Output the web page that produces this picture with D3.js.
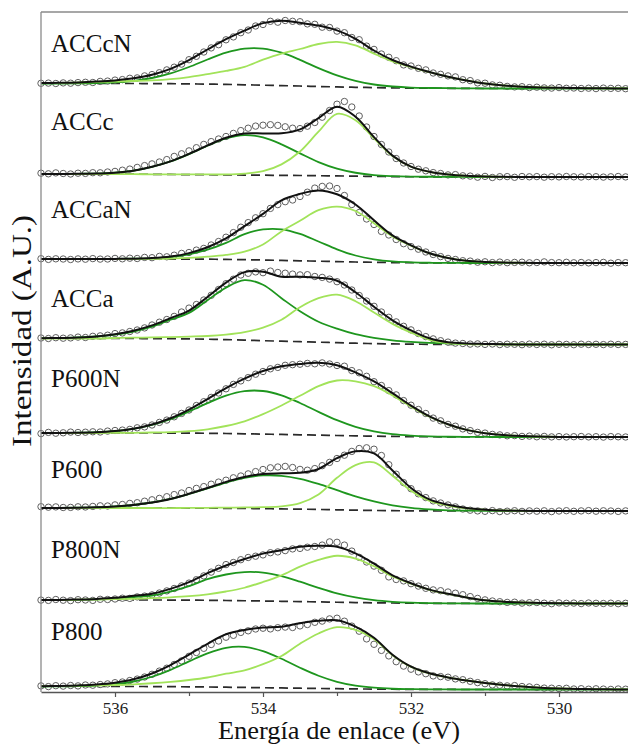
<!DOCTYPE html>
<html><head><meta charset="utf-8">
<script src="https://cdn.jsdelivr.net/npm/d3@7"></script>
<style>html,body{margin:0;padding:0;background:#fff;overflow:hidden}
text{font-family:"Liberation Serif",Tinos,"Times New Roman",Times,"Nimbus Roman","Nimbus Roman No9 L",FreeSerif,"Noto Serif","DejaVu Serif",serif}</style>
</head><body><svg id="c" width="628" height="744"></svg>
<script>
// ---------- data ----------
const samples = ["ACCcN","ACCc","ACCaN","ACCa","P600N","P600","P800N","P800"];
const offsets = [603.5,515,429,347.5,255,181,88.5,2.5];   // vertical stacking offsets (a.u.)
const xTicks = [536,534,532,530];
const xMinorTicks = [535,533,531];
const fitEnergy = d3.range(537, 528.9, -0.25);   // 537 .. 529 eV
const dataEnergy = d3.range(537, 529.05, -0.1);  // 537 .. 529.1 eV

const ACCcN_bg = [5,5,5,5,5,5,4.9,4.8,4.6,4.4,4.1,3.7,3.3,2.9,2.5,2.0,1.6,1.2,0.9,0.6,0.4,0.3,0.2,0.1,0,0,0,0,0,0,0,0,0];
const ACCcN_hi = [0,0,0.1,0.4,1.1,2.7,5.6,10.3,16.9,24.6,31.7,36.2,36.6,32.9,26.2,18.4,11.5,6.4,3.1,1.4,0.5,0.2,0.1,0,0,0,0,0,0,0,0,0,0];
const ACCcN_lo = [0.5,0.7,1.0,1.5,2.0,2.5,3.2,4.5,6.8,10,13.5,18,25.5,32,37,42.5,45,42,34,26.5,21,16,11.5,8,5,3,1.8,1.1,0.7,0.4,0.2,0.1,0];
const ACCcN_data = [5.2,5.4,5.0,5.6,5.3,5.9,6.2,6.0,7.1,7.4,
 8.4,8.9,10.2,10.6,12.6,13.9,15.8,18.6,21.3,24.4,
 28.8,32.2,36.5,40.6,43.8,48.7,51.6,55.8,58.5,62.5,
 64.0,67.2,66.3,68.0,67.2,66.8,64.6,64.2,61.3,61.0,
 57.4,55.8,51.0,48.8,42.4,39.1,34.5,31.2,27.8,23.6,
 22.5,20.2,18.6,15.5,14.2,12.6,11.6,8.8,7.9,5.6,
 5.3,3.6,3.2,2.1,1.6,1.8,0.9,1.3,0.6,0.4,
 0.9,0.2,0.5,0.0,0.3,-0.1,0.4,0.1,0.2,-0.2];

const ACCc_bg = [3,3,3,2.95,2.9,2.8,2.7,2.55,2.4,2.25,2.1,1.95,1.8,1.65,1.5,1.3,1.1,0.85,0.6,0.4,0.25,0.15,0.1,0.05,0,0,0,0,0,0,0,0,0];
const ACCc_hi = [0,0,0.2,0.5,1.4,3.5,7.5,13,20.5,29.0,36.6,40,37.8,31.0,22.1,13.6,7.2,3.4,1.3,0.5,0.2,0.1,0,0,0,0,0,0,0,0,0,0,0];
const ACCc_lo = [0,0,0,0,0,0,0,0.1,0.2,0.3,0.5,1.5,4,11,24,44,62,56,38,20.5,10,5,2.4,1.1,0.5,0.2,0,0,0,0,0,0,0];
const ACCc_data = [3.8,3.2,4.1,3.5,3.0,3.8,3.6,4.3,4.2,5.0,
 5.6,6.8,7.9,9.6,11.4,13.1,15.0,17.4,20.6,23.2,
 26.1,29.3,32.6,35.4,38.0,40.5,43.6,46.4,48.8,50.9,
 51.8,52.3,51.6,50.2,48.8,48.4,50.8,54.5,59.8,66.5,
 72.8,75.5,70.0,61.0,50.0,40.5,32.5,25.0,18.5,14.0,
 10.5,7.8,6.2,4.4,3.5,2.1,2.4,1.2,0.9,-0.2,
 0.6,-0.5,0.3,0.4,-0.3,0.5,0.2,0.4,-0.2,0.3,
 0.1,0.5,0.2,0.0,0.4,0.3,-0.1,0.2,0.5,0.1];

const ACCaN_bg = [4,4,4,4,4,4,4,3.95,3.9,3.8,3.6,3.3,3.0,2.6,2.2,1.8,1.4,1.0,0.7,0.45,0.3,0.15,0.1,0,0,0,0,0,0,0,0,0,0];
const ACCaN_hi = [0,0,0,0,0.1,0.3,0.7,2.0,4.8,9.5,16.5,25.6,30.6,31.1,26.9,19.7,12.3,6.5,3.0,1.1,0.4,0.1,0,0,0,0,0,0,0,0,0,0,0];
const ACCaN_lo = [0,0,0,0,0,0,0.2,0.5,1.2,2.5,4.5,8,15.5,29,40,51,55,51,39,26,17,9.5,5,2.2,1.0,0.4,0.2,0,0,0,0,0,0];
const ACCaN_data = [4.3,3.6,4.2,4.0,3.5,4.1,3.8,4.4,3.9,4.0,
 4.6,4.2,4.8,4.5,5.6,5.3,6.6,6.2,7.8,9.6,
 10.5,12.9,14.6,18.0,21.5,25.8,30.4,35.8,40.4,45.2,
 49.3,54.6,58.4,61.3,63.0,66.5,70.8,74.9,76.6,77.0,
 74.5,67.5,58.5,50.5,44.0,38.5,31.6,28.0,23.5,19.3,
 16.4,13.8,11.0,8.5,6.4,4.6,3.5,2.3,1.9,0.8,
 1.2,0.4,0.9,0.3,0.6,0.8,0.2,0.5,1.1,0.4,
 0.3,0.7,0.2,0.5,0.1,0.4,0.6,-0.2,0.4,0.3];

const ACCa_bg = [6,6,6,6,6,6,5.9,5.8,5.6,5.3,4.9,4.4,3.8,3.3,2.8,2.3,1.8,1.3,0.9,0.6,0.35,0.2,0.1,0,0,0,0,0,0,0,0,0,0];
const ACCa_hi = [0.3,0.5,1.0,2.0,3.8,7,12,19,26,39,52,60,56,43,30.5,20.5,14,9,5.8,3.6,2.3,1.5,1.0,0.6,0.4,0.2,0,0,0,0,0,0,0];
const ACCa_lo = [0,0,0,0,0.5,0.8,1.2,1.6,2.3,3.2,5,8,13,21.5,34.5,44,48,42,31,20,11.5,4.5,1.2,0.5,0.2,0,0,0,0,0,0,0,0];
const ACCa_data = [6.5,6.0,6.8,6.3,6.6,7.4,7.0,8.2,8.6,9.3,
 10.9,11.6,13.0,14.5,16.6,19.5,22.3,25.0,28.1,32.5,
 36.4,40.0,44.5,49.2,55.0,60.8,65.3,69.5,71.2,72.6,
 71.8,73.4,72.0,71.3,70.4,69.6,69.8,68.0,67.1,65.4,
 62.8,59.5,54.5,49.0,43.5,38.2,32.5,27.2,22.6,18.2,
 14.6,11.0,7.9,5.6,3.8,2.4,1.4,1.0,0.4,0.6,
 0.1,0.5,-0.1,0.3,0.2,-0.2,0.4,0.0,0.3,-0.3,
 0.2,0.1,-0.2,0.3,0.0,0.2,-0.1,0.3,0.0,0.1];

const P600N_bg = [4,4,4,4,4,4,4,3.95,3.85,3.7,3.5,3.2,2.9,2.55,2.2,1.85,1.5,1.15,0.85,0.6,0.4,0.25,0.15,0.1,0.05,0,0,0,0,0,0,0,0];
const P600N_hi = [0,0.1,0.3,0.8,1.9,4.1,8.0,13.8,21.6,30.2,37.9,42.7,43.1,39.1,31.8,23.3,15.3,9.0,4.7,2.2,1.0,0.4,0.1,0,0,0,0,0,0,0,0,0,0];
const P600N_lo = [0,0,0,0,0.1,0.2,0.5,1,2,4,7.5,12.5,20,29,39,49,55,54.5,50,41,30,20,12.5,7,3.8,1.9,0.9,0.4,0.1,0,0,0,0];
const P600N_data = [3.4,4.6,3.8,4.2,4.9,4.5,4.8,5.2,5.0,5.9,
 6.5,6.9,7.6,9.2,10.1,12.0,14.6,16.9,20.2,23.6,
 27.0,31.5,35.3,39.6,44.0,48.2,52.6,56.1,59.4,62.8,
 65.5,68.2,69.6,71.7,72.3,72.8,73.6,73.2,74.1,73.0,
 71.5,70.8,66.4,64.2,60.7,55.3,51.5,46.4,42.1,36.4,
 31.8,27.5,23.5,18.9,16.2,12.6,10.8,8.1,6.4,4.6,
 3.9,2.6,2.1,1.2,1.4,0.6,0.9,0.2,0.6,0.1,
 0.4,0.0,0.3,0.5,0.1,0.3,-0.1,0.4,0.2,0.0];

const P600_bg = [3,3,3,3,3,3,3,2.95,2.9,2.8,2.7,2.55,2.35,2.1,1.85,1.55,1.2,0.85,0.55,0.3,0.15,0.05,0,0,0,0,0,0,0,0,0,0,0];
const P600_hi = [0,0.1,0.3,0.7,1.5,3.0,5.5,9.1,14.1,19.8,25.7,30.5,33.2,33.1,30.3,25.5,19.6,13.8,9.0,5.3,2.9,1.5,0.7,0.3,0.1,0,0,0,0,0,0,0,0];
const P600_lo = [0,0,0,0,0,0,0,0,0.2,0.4,0.7,1.0,1.5,2.5,6,15,32,45,48,35,20,10,5.5,2.6,1.2,0.5,0.2,0,0,0,0,0,0];
const P600_data = [4.3,3.8,4.1,3.5,3.6,4.2,4.0,4.6,5.2,5.0,
 6.1,6.5,7.6,8.3,9.8,11.2,12.6,14.3,16.4,18.0,
 20.5,22.6,24.4,26.8,28.9,30.8,33.2,35.0,37.1,39.4,
 41.5,43.2,44.0,44.6,43.5,41.6,40.8,42.4,45.3,48.6,
 52.5,55.8,59.6,62.5,63.2,61.8,55.5,46.3,36.8,28.4,
 22.3,17.2,13.4,10.1,8.0,6.0,4.1,2.0,0.8,0.1,
 -0.3,0.4,-0.6,-0.2,0.3,-0.4,0.1,-0.2,0.2,-0.6,
 0.0,0.3,-0.3,0.1,0.4,-0.2,0.2,0.0,-0.4,0.1];

const P800N_bg = [3.5,3.5,3.5,3.5,3.5,3.5,3.5,3.45,3.35,3.2,3.0,2.75,2.5,2.2,1.9,1.6,1.25,0.95,0.7,0.5,0.3,0.2,0.1,0.05,0,0,0,0,0,0,0,0,0];
const P800N_hi = [0,0.1,0.2,0.6,1.4,3.0,4.5,8.5,14,21.1,26.0,28.7,28.4,25.1,19.9,14.1,8.9,5.1,2.6,1.2,0.5,0.2,0.1,0,0,0,0,0,0,0,0,0,0];
const P800N_lo = [0,0,0.3,0.5,0.8,1.2,1.8,2.7,4,6,9,13,19,26,35,42,46.5,44,36.5,26.5,19.5,13.5,9.5,6,3.2,1.8,1,0.5,0.3,0.1,0,0,0];
const P800N_data = [3.4,3.1,4.0,3.3,2.9,3.8,3.5,3.1,4.2,4.0,
 4.5,5.3,5.1,6.6,7.4,8.6,10.5,12.6,15.0,17.6,
 20.4,23.8,27.6,31.4,35.2,38.9,41.0,43.8,46.0,47.3,
 48.6,50.8,51.6,52.9,54.6,55.1,56.3,57.0,58.4,61.6,
 61.2,58.4,52.4,46.2,41.5,37.4,33.2,26.6,24.0,22.6,
 19.8,17.4,15.2,13.6,12.8,11.5,10.3,8.8,6.9,5.1,
 3.6,2.5,1.8,1.1,1.3,0.4,0.8,1.0,0.3,-0.2,
 0.6,0.2,0.4,-0.1,0.5,0.2,0.0,0.3,-0.2,0.2];

const P800_bg = [3,3,3,3,3,3,2.95,2.85,2.7,2.5,2.3,2.05,1.8,1.55,1.3,1.05,0.8,0.6,0.4,0.25,0.15,0.1,0.05,0,0,0,0,0,0,0,0,0,0];
const P800_hi = [0,0.1,0.3,0.9,2.3,5.0,9.8,16.8,25.4,33.7,39.4,40.5,36.6,29.2,20.5,12.7,6.9,3.3,1.4,0.5,0.2,0.1,0,0,0,0,0,0,0,0,0,0,0];
const P800_lo = [0.3,0.5,0.8,1.1,1.5,2.2,3.3,4.8,6.8,9.5,13.5,17,23.5,32,44.5,55,61.5,59,50,34,22.5,16,12,9,6.5,4.5,3,1.8,1.0,0.5,0.3,0.1,0];
const P800_data = [3.6,2.9,3.8,3.4,4.0,3.6,4.5,4.3,5.0,5.6,
 6.8,7.5,9.0,10.4,12.5,15.2,18.4,21.3,25.0,28.6,
 33.2,37.0,41.2,45.0,48.5,52.3,54.2,57.1,58.7,60.5,
 61.3,60.6,61.8,62.4,62.0,63.6,65.0,67.2,68.4,70.6,
 71.3,68.3,63.4,58.3,50.6,45.2,39.1,33.6,27.8,23.4,
 20.3,17.6,15.8,13.6,12.9,12.3,10.6,9.8,8.2,6.9,
 5.8,4.6,4.2,3.6,3.9,3.0,2.6,2.1,1.4,1.3,
 0.9,1.2,0.5,0.8,0.3,0.7,0.4,0.1,0.5,0.3];

// ---------- layout (not data) ----------
const labelLift = [36.5,47,45,37.5,50,33,45.5,49.5];

const panels = [
  {bg:ACCcN_bg, hi:ACCcN_hi, lo:ACCcN_lo, data:ACCcN_data},
  {bg:ACCc_bg,  hi:ACCc_hi,  lo:ACCc_lo,  data:ACCc_data},
  {bg:ACCaN_bg, hi:ACCaN_hi, lo:ACCaN_lo, data:ACCaN_data},
  {bg:ACCa_bg,  hi:ACCa_hi,  lo:ACCa_lo,  data:ACCa_data},
  {bg:P600N_bg, hi:P600N_hi, lo:P600N_lo, data:P600N_data},
  {bg:P600_bg,  hi:P600_hi,  lo:P600_lo,  data:P600_data},
  {bg:P800N_bg, hi:P800N_hi, lo:P800N_lo, data:P800N_data},
  {bg:P800_bg,  hi:P800_hi,  lo:P800_lo,  data:P800_data}
];

// ---------- drawing ----------
const svg = d3.select("#c");
const x = d3.scaleLinear().domain([537, 529]).range([41, 633]);
const y = d3.scaleLinear().domain([0, 680]).range([692, 12]);

svg.append("defs").append("clipPath").attr("id","clip")
  .append("rect").attr("x",37).attr("y",12).attr("width",600).attr("height",682);

const plot = svg.append("g").attr("clip-path","url(#clip)");

panels.forEach((p, k) => {
  const off = offsets[k];
  const g = plot.append("g");
  const line = arr => d3.line()
      .x((d,i) => x(fitEnergy[i]))
      .y(d => y(off + d))
      .curve(d3.curveCatmullRom.alpha(0.5))(arr);
  const hiAbs = p.hi.map((v,i) => v + p.bg[i]);
  const loAbs = p.lo.map((v,i) => v + p.bg[i]);
  const env = p.bg.map((v,i) => v + p.hi[i] + p.lo[i]);

  g.append("path").attr("d", line(p.bg)).attr("fill","none")
    .attr("stroke","#2a2a2a").attr("stroke-width",1.7).attr("stroke-dasharray","9,5");

  g.selectAll("circle").data(p.data).join("circle")
    .attr("cx",(d,i)=>x(dataEnergy[i])).attr("cy",d=>y(off+d)).attr("r",3.2)
    .attr("fill","#fff").attr("stroke","#5f5f5f").attr("stroke-width",1);

  g.append("path").attr("d", line(hiAbs)).attr("fill","none")
    .attr("stroke","#1e961e").attr("stroke-width",1.8);
  g.append("path").attr("d", line(loAbs)).attr("fill","none")
    .attr("stroke","#a2e35a").attr("stroke-width",1.8);
  g.append("path").attr("d", line(env)).attr("fill","none")
    .attr("stroke","#111").attr("stroke-width",2);

  svg.append("text").attr("x",51).attr("y",y(off + labelLift[k]))
    .attr("font-size",25).attr("fill","#111")
    .text(samples[k]);
});

// frame
svg.append("line").attr("x1",41).attr("x2",41).attr("y1",12).attr("y2",692)
  .attr("stroke","#8a8a8a").attr("stroke-width",1.3);
svg.append("line").attr("x1",41).attr("x2",628).attr("y1",12).attr("y2",12)
  .attr("stroke","#8a8a8a").attr("stroke-width",1.3);

// x axis
const ax = svg.append("g").attr("transform","translate(0,692)")
  .call(d3.axisBottom(x).tickValues(xTicks).tickSize(5).tickSizeOuter(0).tickPadding(5).tickFormat(d3.format("d")));
ax.select(".domain").attr("stroke","#555").attr("stroke-width",1.3);
ax.selectAll(".tick line").attr("stroke","#555").attr("stroke-width",1.2);
ax.selectAll(".tick text").attr("font-size",17).attr("fill","#222");
const axm = svg.append("g").attr("transform","translate(0,692)")
  .call(d3.axisBottom(x).tickValues(xMinorTicks).tickSize(4).tickSizeOuter(0).tickFormat(""));
axm.select(".domain").remove();
axm.selectAll(".tick line").attr("stroke","#555").attr("stroke-width",1.2);
ax.attr("font-family",null); axm.attr("font-family",null);

// titles
svg.append("text").attr("x",339).attr("y",739).attr("text-anchor","middle")
  .attr("font-size",25).attr("fill","#111")
  .attr("textLength",242).attr("lengthAdjust","spacingAndGlyphs")
  .text("Energía de enlace (eV)");
svg.append("text").attr("transform","translate(31,331) rotate(-90)").attr("text-anchor","middle")
  .attr("font-size",27).attr("fill","#111")
  .attr("textLength",232).attr("lengthAdjust","spacingAndGlyphs")
  .text("Intensidad (A.U.)");
</script>
</body></html>
